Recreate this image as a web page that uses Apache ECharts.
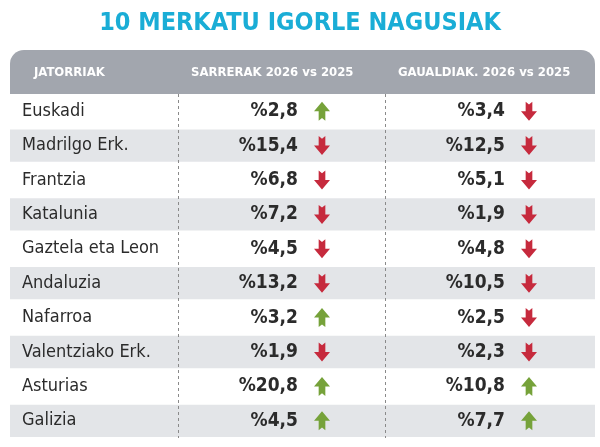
<!DOCTYPE html><html><head><meta charset="utf-8"><script src="https://cdn.jsdelivr.net/npm/echarts@6/dist/echarts.min.js"></script>
<style>html,body{margin:0;background:#fff}#c{width:600px;height:447px}</style></head><body><div id="c"></div><script>
const countries=['Euskadi','Madrilgo Erk.','Frantzia','Katalunia','Gaztela eta Leon','Andaluzia','Nafarroa','Valentziako Erk.','Asturias','Galizia'];
const entries=['2,8','15,4','6,8','7,2','4,5','13,2','3,2','1,9','20,8','4,5'];
const entriesDir=['up','down','down','down','down','down','up','down','up','up'];
const nights=['3,4','12,5','5,1','1,9','4,8','10,5','2,5','2,3','10,8','7,7'];
const nightsDir=['down','down','down','down','down','down','down','down','up','up'];
const headers=['JATORRIAK','SARRERAK 2026 vs 2025','GAUALDIAK. 2026 vs 2025'];
const F='DejaVu Sans Condensed, DejaVu Sans';
const up='path://M6,0 L12,7 L8.5,7 L8.5,14 L6,12 L3.5,14 L3.5,7 L0,7 Z';
const down='path://M3.5,0 L6,2 L8.5,0 L8.5,7 L12,7 L6,14 L0,7 L3.5,7 Z';
const arrow=(x,dirs)=>dirs.map((d,i)=>({value:[x,countries[i]],symbol:d==='up'?up:down,itemStyle:{color:d==='up'?'#76a23a':'#c62a3d',opacity:1}}));
const txt=(x,arr,pre,style,pos)=>({type:'scatter',symbolSize:0,silent:true,itemStyle:{opacity:1},data:arr.map((v,i)=>[x,countries[i],pre+v]),
 label:{show:true,position:pos,distance:0,formatter:p=>p.data[2],opacity:1,...style}});
const c=echarts.init(document.getElementById('c'));
c.setOption({animation:false,
 title:{text:'10 MERKATU IGORLE NAGUSIAK',left:'center',top:6,textStyle:{fontFamily:F,fontSize:25,fontWeight:'bold',color:'#1aadd6'}},
 graphic:[{type:'rect',shape:{x:10,y:50,width:585,height:44,r:[14,14,0,0]},style:{fill:'#a2a6ae'}},
  {type:'text',x:34,y:73,style:{text:headers[0],fill:'#fff',font:'bold 13px '+F,verticalAlign:'middle'}},
  {type:'text',x:191,y:73,style:{text:headers[1],fill:'#fff',font:'bold 13px '+F,verticalAlign:'middle'}},
  {type:'text',x:398,y:73,style:{text:headers[2],fill:'#fff',font:'bold 13px '+F,verticalAlign:'middle'}}],
 grid:{left:10,right:5,top:94,bottom:9},
 xAxis:{type:'value',min:0,max:585,show:false},
 yAxis:{type:'category',data:countries,inverse:true,show:false},
 series:[
  {type:'bar',barWidth:'94%',silent:true,data:countries.map((c,i)=>({value:585,itemStyle:{color:i%2?'#e3e5e8':'#ffffff'}})),
   markLine:{silent:true,symbol:'none',label:{show:false},lineStyle:{type:[3,3],color:'#8a8a8a',width:1},data:[{xAxis:168},{xAxis:375}]}},
  txt(12,countries,'',{fontFamily:F,fontSize:18,color:'#2b2b2b'},'right'),
  txt(288,entries,'%',{fontFamily:F,fontSize:19,fontWeight:'bold',color:'#2b2b2b'},'left'),
  txt(495,nights,'%',{fontFamily:F,fontSize:19,fontWeight:'bold',color:'#2b2b2b'},'left'),
  {type:'scatter',symbolSize:[16,19],silent:true,data:arrow(312,entriesDir)},
  {type:'scatter',symbolSize:[16,19],silent:true,data:arrow(519,nightsDir)}
 ]});
</script></body></html>
